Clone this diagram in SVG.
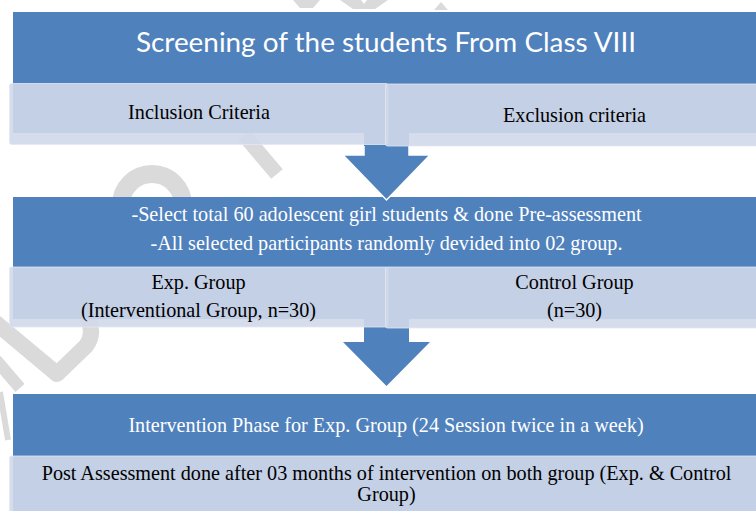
<svg xmlns="http://www.w3.org/2000/svg" width="756" height="511" viewBox="0 0 756 511">
  <style>
    .blue { fill: #4F81BD; }
    .light { fill: #D0D8E9; fill-opacity: 0.9; stroke: #E2E7F2; stroke-opacity: 0.8; stroke-width: 1; }
    .arrow { fill: #4F81BD; }
    .arrow-edge { fill: none; stroke: #FFFFFF; stroke-width: 1.5; stroke-linejoin: miter; }
    .title { font-family: Lato, "Open Sans", "Liberation Sans", sans-serif; font-size: 27px; fill: #FFFFFF; text-anchor: middle; }
    .wt { font-family: "Liberation Serif", "Times New Roman", serif; font-size: 20.2px; fill: #FFFFFF; text-anchor: middle; }
    .bt { font-family: "Liberation Serif", "Times New Roman", serif; font-size: 20.2px; fill: #000000; text-anchor: middle; }
    .wm { fill: none; stroke: #DADADA; }
    .wmf { fill: #DADADA; }
  </style>
  <rect x="0" y="0" width="756" height="511" fill="#FFFFFF"/>

  <g id="watermark">
    <polygon class="wmf" points="293,0 320,0 313,8 300,8"/>
    <polygon class="wmf" points="340,0 361,0 364,4 367,0 388,0 375,9 353,9"/>
    <polygon class="wmf" points="434,10 448,10 441,2"/>
    <circle class="wm" cx="152" cy="205" r="31" stroke-width="18"/>
    <line class="wm" x1="244" y1="135" x2="277" y2="174" stroke-width="15"/>
    <path class="wm" d="M -10 318 L 57 374 L 86 346 Q 96 333 86 316" stroke-width="16" stroke-linejoin="round"/>
    <line class="wm" x1="-4" y1="360" x2="20" y2="388" stroke-width="12"/>
    <line class="wm" x1="0" y1="392" x2="8" y2="440" stroke-width="6"/>
  </g>

  <!-- blue stage boxes -->
  <g id="screening">
    <rect class="blue" x="13" y="12" width="750" height="121"/>
    <text class="title" x="386" y="52" textLength="500" lengthAdjust="spacingAndGlyphs">Screening of the students From Class VIII</text>
  </g>
  <g id="selection">
    <rect class="blue" x="13" y="197" width="750" height="122"/>
    <text class="wt" x="386.5" y="221">-Select total 60 adolescent girl students &amp; done Pre-assessment</text>
    <text class="wt" x="386.5" y="250">-All selected participants randomly devided into 02 group.</text>
  </g>
  <g id="intervention">
    <rect class="blue" x="13" y="394" width="750" height="120"/>
    <text class="wt" x="386" y="432">Intervention Phase for Exp. Group (24 Session twice in a week)</text>
  </g>

  <g id="connectors">
    <g id="arrow-1">
      <polygon class="arrow" points="364,131 409,131 409,155 430,155 386.5,200 343,155 364,155"/>
      <polyline class="arrow-edge" points="364,146 364,155 343,155 386.5,200 430,155 409,155 409,146"/>
    </g>
    <g id="arrow-2">
      <polygon class="arrow" points="364,317 409,317 409,342 430,342 386.5,386 343,342 364,342"/>
    </g>
  </g>

  <!-- light sub boxes -->
  <g id="inclusion">
    <rect class="light" x="9.5" y="83.5" width="378.5" height="61" rx="2"/>
    <text class="bt" x="199" y="119">Inclusion Criteria</text>
  </g>
  <g id="exclusion">
    <rect class="light" x="385.5" y="84" width="380" height="62" rx="2"/>
    <text class="bt" x="574.5" y="121.5">Exclusion criteria</text>
  </g>
  <g id="exp-group">
    <rect class="light" x="9.5" y="267" width="378.5" height="60" rx="2"/>
    <text class="bt" x="198.5" y="289">Exp. Group</text>
    <text class="bt" x="198.5" y="317">(Interventional Group, n=30)</text>
  </g>
  <g id="control-group">
    <rect class="light" x="385.5" y="267" width="380" height="61" rx="2"/>
    <text class="bt" x="574.5" y="289">Control Group</text>
    <text class="bt" x="574.5" y="317">(n=30)</text>
  </g>
  <g id="post-assessment">
    <rect class="light" x="9.5" y="456" width="760" height="62" rx="2"/>
    <text class="bt" x="386.5" y="480">Post Assessment done after 03 months of intervention on both group (Exp. &amp; Control</text>
    <text class="bt" x="386.5" y="501">Group)</text>
  </g>
</svg>
